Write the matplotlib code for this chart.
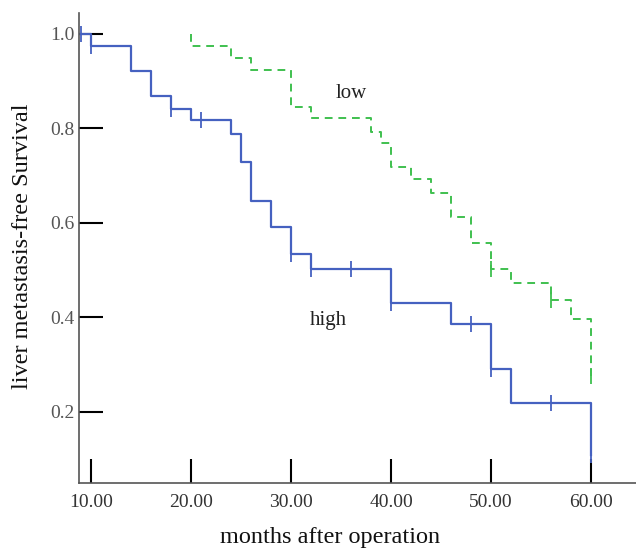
import numpy as np
import matplotlib
matplotlib.use("Agg")
import matplotlib.pyplot as plt

# ---- data ----
high_times = [0, 10, 14, 16, 18, 20, 24, 25, 26, 28, 30, 32, 40, 46, 50, 52, 60]
high_surv = [1.0, 0.975, 0.922, 0.869, 0.842, 0.817, 0.788, 0.730, 0.647, 0.591,
             0.534, 0.503, 0.431, 0.387, 0.290, 0.219, 0.109]
high_censor = [9, 10, 18, 21, 30, 32, 36, 40, 48, 50, 56, 60]

low_times = [20, 20, 24, 26, 30, 32, 38, 39, 40, 42, 44, 46, 48, 50, 52, 56, 58, 60]
low_surv = [1.0, 0.975, 0.950, 0.924, 0.845, 0.822, 0.793, 0.769, 0.718, 0.693,
            0.664, 0.613, 0.557, 0.502, 0.472, 0.436, 0.396, 0.277]
low_censor = [50, 56, 60]

x_ticks = [10, 20, 30, 40, 50, 60]
y_ticks = [0.2, 0.4, 0.6, 0.8, 1.0]

blue = "#4561c0"
green = "#3fc04f"

plt.rcParams['font.family'] = ['Liberation Serif', 'DejaVu Serif']

fig = plt.figure(figsize=(6.36, 5.5), dpi=100)
ax = fig.add_axes([79/636, 67/550, 1 - 79/636, (483-13)/550])


def step_value(times, surv, t):
    idx = np.searchsorted(np.asarray(times), t, side='right') - 1
    return np.asarray(surv)[idx]


ax.step(high_times, high_surv, where='post', color=blue, lw=1.6)
ax.plot(high_censor, [step_value(high_times, high_surv, t) for t in high_censor],
        ls='none', marker='|', ms=11, mew=1.3, color=blue)

ax.step(low_times, low_surv, where='post', color=green, lw=1.4, ls=(0, (4, 3)))
ax.plot(low_censor, [step_value(low_times, low_surv, t) for t in low_censor],
        ls='none', marker='|', ms=11, mew=1.3, color=green)

ax.set_xlim(8.8, 64.5)
ax.set_ylim(0.0497, 1.0444)
ax.set_xticks(x_ticks)
ax.set_xticklabels([f"{v:.2f}" for v in x_ticks])
ax.set_yticks(y_ticks)
ax.set_yticklabels([f"{v:.1f}" for v in y_ticks])

for s in ['top', 'right']:
    ax.spines[s].set_visible(False)
for s in ['left', 'bottom']:
    ax.spines[s].set_color('#555555')
    ax.spines[s].set_linewidth(1.2)

ax.tick_params(axis='both', direction='in', length=17, width=1.5, color='black',
               labelsize=14)
ax.tick_params(axis='x', pad=8, labelcolor='#333333')
ax.tick_params(axis='y', pad=3, labelcolor='#555555')

fig.text(351/636, 1 - 93/550, "low", fontsize=15, ha='center', va='center',
         color='#222222')
fig.text(328/636, 1 - 321/550, "high", fontsize=15, ha='center', va='center',
         color='#222222')

fig.text(330/636, 1 - 537/550, "months after operation", fontsize=17.5,
         ha='center', va='center', color='#111111')
fig.text(23/636, 1 - 246/550, "liver metastasis-free Survival", fontsize=17.5,
         rotation=90, ha='center', va='center', color='#111111')

fig.savefig("out.png", dpi=100)
